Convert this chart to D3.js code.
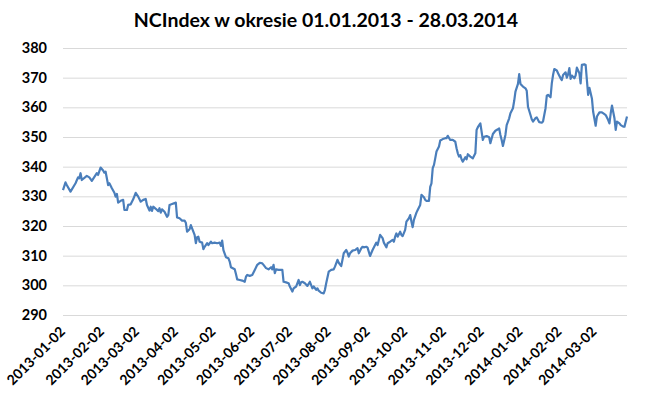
<!DOCTYPE html>
<html>
<head>
<meta charset="utf-8">
<script src="https://cdn.jsdelivr.net/npm/d3@7"></script>
<style>
  body { margin: 0; background: #fff; }
  text { font-family: Lato, "Open Sans", sans-serif; font-weight: bold; fill: #000; }
</style>
</head>
<body>
<div id="chart"></div>
<script>
const chartTitle = "NCIndex w okresie 01.01.2013 - 28.03.2014";

// daily points
const dates = [
  "2013-01-02","2013-01-04","2013-01-05","2013-01-08","2013-01-12","2013-01-14","2013-01-15","2013-01-16","2013-01-17","2013-01-21",
  "2013-01-23","2013-01-25","2013-01-29","2013-01-30","2013-02-01","2013-02-03","2013-02-04","2013-02-05","2013-02-07","2013-02-08",
  "2013-02-10","2013-02-12","2013-02-13","2013-02-14","2013-02-15","2013-02-17","2013-02-19","2013-02-20","2013-02-22","2013-02-23",
  "2013-02-25","2013-02-27","2013-03-01","2013-03-03","2013-03-05","2013-03-07","2013-03-09","2013-03-10","2013-03-12","2013-03-13",
  "2013-03-14","2013-03-15","2013-03-17","2013-03-19","2013-03-20","2013-03-21","2013-03-22","2013-03-24","2013-03-26","2013-03-27",
  "2013-03-28","2013-03-30","2013-04-01","2013-04-02","2013-04-03","2013-04-05","2013-04-07","2013-04-09","2013-04-10","2013-04-11",
  "2013-04-13","2013-04-14","2013-04-15","2013-04-17","2013-04-18","2013-04-19","2013-04-20","2013-04-21","2013-04-23","2013-04-24",
  "2013-04-25","2013-04-27","2013-04-28","2013-04-30","2013-05-01","2013-05-03","2013-05-05","2013-05-07","2013-05-08","2013-05-09",
  "2013-05-10","2013-05-12","2013-05-14","2013-05-15","2013-05-16","2013-05-19","2013-05-20","2013-05-21","2013-05-23","2013-05-25",
  "2013-05-27","2013-05-28","2013-05-29","2013-05-31","2013-06-02","2013-06-04","2013-06-06","2013-06-08","2013-06-10","2013-06-11",
  "2013-06-13","2013-06-15","2013-06-17","2013-06-18","2013-06-19","2013-06-20","2013-06-21","2013-06-23","2013-06-26","2013-06-27",
  "2013-06-29","2013-07-01","2013-07-02","2013-07-04","2013-07-05","2013-07-07","2013-07-09","2013-07-10","2013-07-11","2013-07-12",
  "2013-07-14","2013-07-16","2013-07-18","2013-07-19","2013-07-20","2013-07-21","2013-07-23","2013-07-24","2013-07-25","2013-07-27",
  "2013-07-29","2013-07-30","2013-07-31","2013-08-02","2013-08-04","2013-08-06","2013-08-07","2013-08-09","2013-08-10","2013-08-12",
  "2013-08-14","2013-08-16","2013-08-17","2013-08-18","2013-08-19","2013-08-21","2013-08-23","2013-08-25","2013-08-26","2013-08-28",
  "2013-08-29","2013-08-30","2013-09-01","2013-09-02","2013-09-04","2013-09-06","2013-09-08","2013-09-09","2013-09-10","2013-09-11",
  "2013-09-12","2013-09-14","2013-09-15","2013-09-17","2013-09-18","2013-09-20","2013-09-22","2013-09-23","2013-09-24","2013-09-25",
  "2013-09-26","2013-09-28","2013-09-29","2013-09-30","2013-10-02","2013-10-03","2013-10-05","2013-10-06","2013-10-07","2013-10-08",
  "2013-10-09","2013-10-11","2013-10-12","2013-10-14","2013-10-15","2013-10-17","2013-10-18","2013-10-19","2013-10-21","2013-10-22",
  "2013-10-23","2013-10-24","2013-10-25","2013-10-26","2013-10-27","2013-10-29","2013-10-30","2013-11-01","2013-11-03","2013-11-04",
  "2013-11-05","2013-11-07","2013-11-09","2013-11-11","2013-11-12","2013-11-13","2013-11-14","2013-11-15","2013-11-16","2013-11-17",
  "2013-11-19","2013-11-20","2013-11-21","2013-11-23","2013-11-25","2013-11-27","2013-11-28","2013-11-29","2013-12-01","2013-12-03",
  "2013-12-04","2013-12-06","2013-12-08","2013-12-09","2013-12-11","2013-12-13","2013-12-15","2013-12-16","2013-12-17","2013-12-18",
  "2013-12-19","2013-12-21","2013-12-22","2013-12-24","2013-12-25","2013-12-27","2013-12-28","2013-12-29","2013-12-31","2014-01-01",
  "2014-01-02","2014-01-04","2014-01-06","2014-01-07","2014-01-08","2014-01-10","2014-01-11","2014-01-12","2014-01-14","2014-01-15",
  "2014-01-17","2014-01-19","2014-01-20","2014-01-22","2014-01-23","2014-01-24","2014-01-26","2014-01-27","2014-01-28","2014-01-29",
  "2014-01-31","2014-02-01","2014-02-03","2014-02-04","2014-02-05","2014-02-07","2014-02-08","2014-02-09","2014-02-10","2014-02-11",
  "2014-02-12","2014-02-14","2014-02-15","2014-02-16","2014-02-18","2014-02-19","2014-02-20","2014-02-22","2014-02-23","2014-02-24",
  "2014-02-25","2014-02-26","2014-02-28","2014-03-01","2014-03-03","2014-03-04","2014-03-06","2014-03-08","2014-03-10","2014-03-11",
  "2014-03-13","2014-03-14","2014-03-15","2014-03-16","2014-03-18","2014-03-19","2014-03-20","2014-03-22","2014-03-23","2014-03-25",
  "2014-03-26","2014-03-28"
];

const values = [
  332.1,334.7,333.8,331.6,334.4,336.4,336.1,337.8,335.5,336.9,
  336.4,335.2,337.8,337.2,339.7,338.7,338.0,338.3,333.8,334.4,
  332.7,331.2,329.9,330.8,327.9,328.5,328.8,325.4,325.4,327.1,
  327.3,329.0,331.2,329.9,328.2,328.8,329.1,327.1,325.2,326.5,
  325.1,326.5,325.8,325.0,326.0,324.5,325.6,324.8,323.1,323.7,
  327.1,327.4,327.7,327.9,322.9,322.6,321.8,321.8,321.1,318.1,
  318.9,320.3,319.2,317.0,314.2,316.2,316.4,314.7,314.4,312.2,
  313.0,314.2,313.6,314.7,314.2,314.4,314.2,314.4,313.3,315.1,
  311.9,309.5,309.1,308.0,306.1,305.4,303.8,302.0,301.8,301.6,
  301.2,302.9,303.5,303.2,303.5,305.2,306.9,307.6,307.4,306.9,
  305.8,305.4,306.1,305.4,306.9,304.1,305.4,305.2,305.2,301.2,
  301.0,300.7,299.6,297.9,299.0,299.6,301.8,300.1,301.0,301.2,
  300.7,299.8,301.2,300.1,299.0,299.6,298.5,299.0,298.2,297.5,
  297.3,298.5,300.7,304.6,305.2,305.4,306.3,308.6,307.6,306.5,
  310.8,311.9,311.0,309.7,310.8,311.7,311.9,312.5,310.8,312.5,
  313.0,312.8,313.0,312.7,309.9,311.9,313.6,314.4,313.6,315.3,
  317.0,315.9,314.4,312.8,314.2,314.7,315.3,314.7,316.4,317.5,
  316.4,318.1,317.0,316.6,318.7,321.5,322.6,323.7,321.5,319.6,
  322.1,324.5,325.4,327.1,330.5,329.7,328.8,328.5,328.5,333.2,
  334.4,339.5,340.6,342.8,345.1,346.8,348.8,349.3,349.6,349.6,
  350.4,349.0,349.0,348.4,346.2,344.5,343.4,343.9,342.5,341.7,
  343.2,342.5,344.2,343.4,342.8,344.5,352.4,353.3,354.6,349.0,
  350.1,350.3,349.9,347.9,351.0,352.1,352.6,352.9,350.7,349.0,
  347.0,350.7,354.0,356.3,358.0,359.7,362.2,365.3,367.9,371.2,
  367.9,367.0,366.4,365.6,360.2,357.4,356.0,355.2,356.4,356.6,
  355.0,354.8,355.2,359.7,363.9,364.2,363.4,368.1,370.9,372.9,
  372.4,371.5,369.8,369.2,370.9,371.8,370.0,371.1,373.2,369.6,
  370.7,369.8,370.7,373.4,371.5,368.1,374.3,374.5,374.3,369.2,
  364.2,366.6,363.0,358.5,353.8,356.9,358.3,358.3,357.7,357.4,
  355.7,354.6,358.0,360.6,356.3,352.4,355.2,354.6,354.0,353.5,
  353.5,356.9
];

const yTicks = [290, 300, 310, 320, 330, 340, 350, 360, 370, 380];
const xTickLabels = [
  "2013-01-02","2013-02-02","2013-03-02","2013-04-02","2013-05-02",
  "2013-06-02","2013-07-02","2013-08-02","2013-09-02","2013-10-02",
  "2013-11-02","2013-12-02","2014-01-02","2014-02-02","2014-03-02"
];

const W = 650, H = 399;
const plot = { left: 63, right: 627, top: 48, bottom: 315 };

const parse = d3.utcParse("%Y-%m-%d");
const data = dates.map((d, i) => ({ date: parse(d), value: values[i] }));

const svg = d3.select("#chart").append("svg")
  .attr("width", W)
  .attr("height", H);

const x = d3.scaleUtc()
  .domain([parse("2013-01-02"), parse("2014-03-28")])
  .range([plot.left, plot.right]);

const y = d3.scaleLinear()
  .domain([290, 380])
  .range([plot.bottom, plot.top]);

// gridlines + y labels
const yAxis = d3.axisLeft(y)
  .tickValues(yTicks)
  .tickSize(-(plot.right - plot.left))
  .tickPadding(16)
  .tickFormat(d3.format("d"));

const yg = svg.append("g")
  .attr("transform", "translate(" + plot.left + ",0)")
  .call(yAxis);
yg.select(".domain").remove();
yg.selectAll(".tick line").attr("stroke", "#d9d9d9").attr("stroke-width", 1);
yg.selectAll(".tick text")
  .attr("font-size", "14.5px")
  .attr("font-family", "Lato, 'Open Sans', sans-serif")
  .attr("font-weight", "bold")
  .attr("fill", "#000");

// x labels, rotated
const xAxis = d3.axisBottom(x)
  .tickValues(xTickLabels.map(parse))
  .tickSize(0)
  .tickFormat(d3.utcFormat("%Y-%m-%d"));

const xg = svg.append("g")
  .attr("transform", "translate(0," + plot.bottom + ")")
  .call(xAxis);
xg.select(".domain").remove();
xg.selectAll(".tick text")
  .attr("font-size", "14px")
  .attr("font-family", "Lato, 'Open Sans', sans-serif")
  .attr("font-weight", "bold")
  .attr("fill", "#000")
  .attr("text-anchor", "end")
  .attr("dy", "0.35em")
  .attr("transform", "translate(-3,12) rotate(-45)");

// the series
const line = d3.line()
  .x(d => x(d.date))
  .y(d => y(d.value));

svg.append("path")
  .datum(data)
  .attr("fill", "none")
  .attr("stroke", "#4a7ebb")
  .attr("stroke-width", 2.2)
  .attr("stroke-linejoin", "round")
  .attr("d", line);

svg.append("text")
  .attr("x", 326)
  .attr("y", 27)
  .attr("text-anchor", "middle")
  .attr("font-size", "19.5px")
  .text(chartTitle);
</script>
</body>
</html>
